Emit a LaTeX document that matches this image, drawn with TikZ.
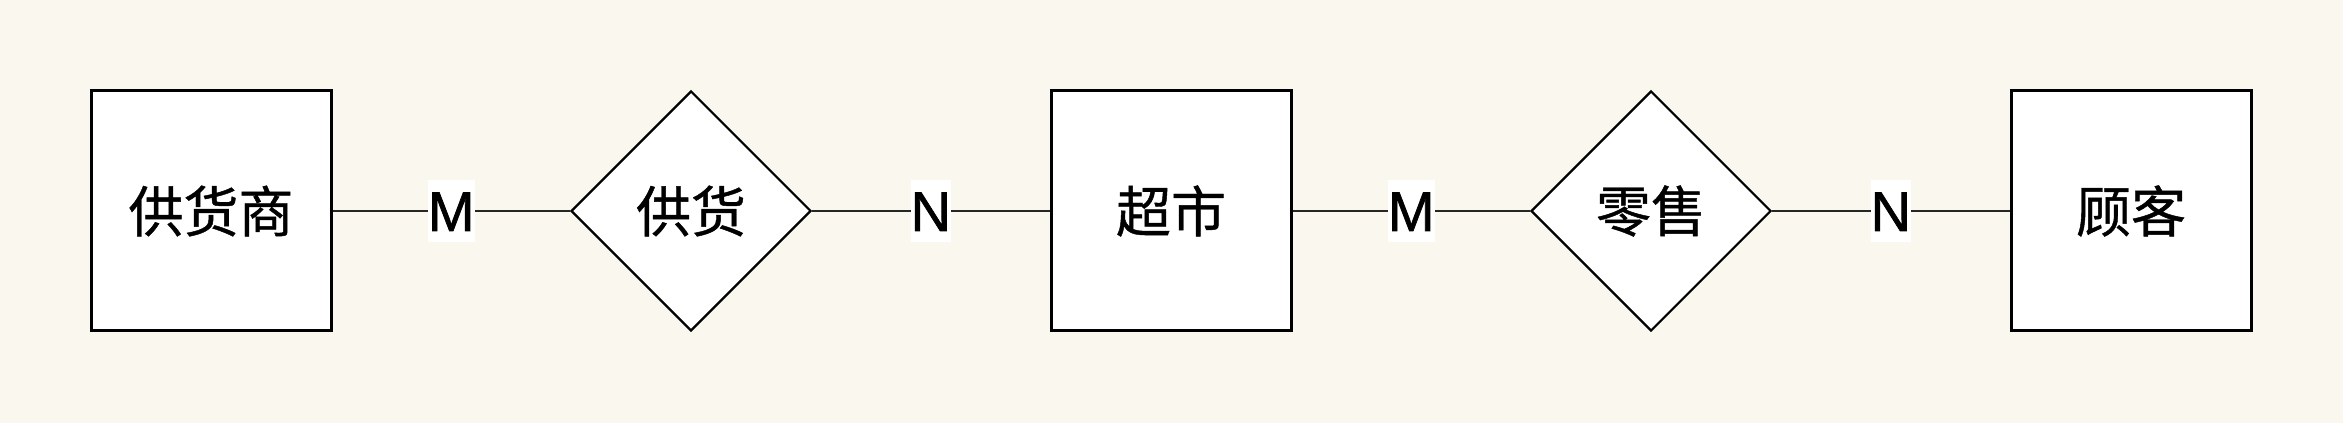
\documentclass[tikz,border=0pt]{standalone}
\usepackage{fontspec}
\newfontfamily\cjk[FakeBold=0.8]{Noto Sans CJK SC}
\newfontfamily\lat[FakeBold=1.2]{Liberation Sans}
\usetikzlibrary{shapes.geometric}
\definecolor{bgc}{RGB}{250,248,238}
\tikzset{
  entity/.style={draw=black, fill=white, line width=3pt, rectangle, minimum width=240pt, minimum height=240pt, inner sep=0pt, font=\cjk\fontsize{55}{60}\selectfont},
  relation/.style={draw=black, fill=white, line width=2.2pt, diamond, aspect=1, minimum width=240pt, minimum height=240pt, inner sep=0pt, font=\cjk\fontsize{55}{60}\selectfont},
  conn/.style={draw=black!85, line width=2.3pt},
  card/.style={fill=white, inner xsep=0pt, inner ysep=11pt, text height=40pt, text depth=0pt, font=\lat\fontsize{56}{60}\selectfont}
}
\begin{document}
\begin{tikzpicture}[x=1pt,y=1pt]
\fill[bgc] (0,0) rectangle (2343,423);
\useasboundingbox (0,0) rectangle (2343,423);
\node[entity] (b1) at (211,212) {供货商};
\node[relation] (d1) at (691,212) {供货};
\node[entity] (b2) at (1171,212) {超市};
\node[relation] (d2) at (1651,212) {零售};
\node[entity] (b3) at (2131,212) {顾客};
\draw[conn] (b1.east) -- node[card] {M} (d1.west);
\draw[conn] (d1.east) -- node[card] {N} (b2.west);
\draw[conn] (b2.east) -- node[card] {M} (d2.west);
\draw[conn] (d2.east) -- node[card] {N} (b3.west);
\end{tikzpicture}
\end{document}
